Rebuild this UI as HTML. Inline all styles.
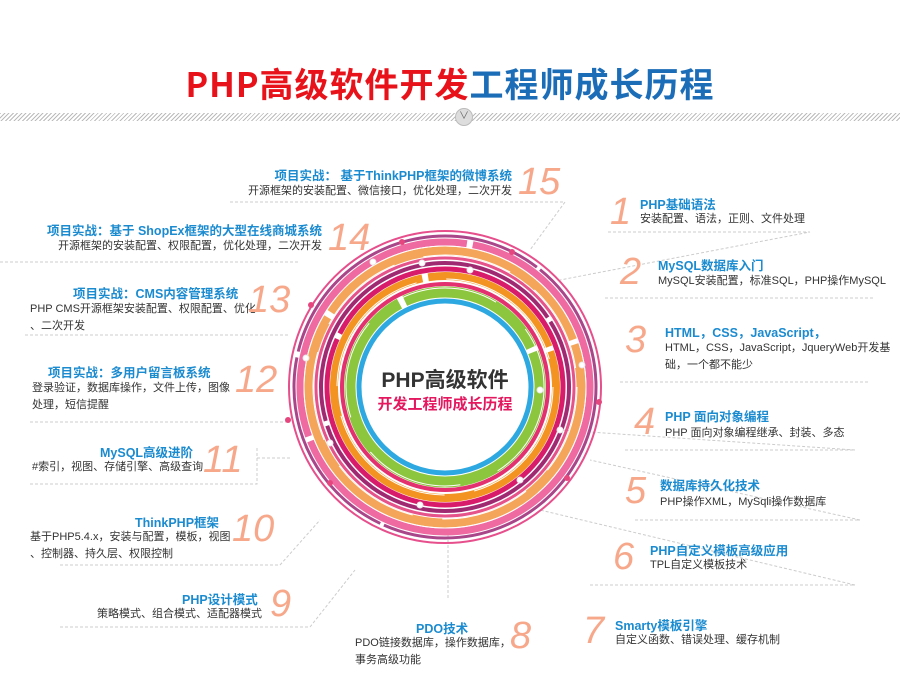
<!DOCTYPE html>
<html><head><meta charset="utf-8"><style>
body{margin:0;width:900px;height:674px;background:#fff;position:relative;overflow:hidden;font-family:"Liberation Sans","Noto Sans CJK SC",sans-serif}
.a{position:absolute;white-space:nowrap}
.t{font-size:12.5px;font-weight:bold;color:#1b8bd0}
.s{font-size:11px;color:#333;line-height:17px}
.n{font-size:38px;font-style:italic;color:#f7a88b;line-height:40px}
.r{text-align:right}
</style></head><body>
<div class="a" style="left:0;top:58px;width:900px;text-align:center;font-size:34px;font-weight:bold;letter-spacing:1px;font-family:'Noto Sans CJK SC','Liberation Sans',sans-serif"><span style="color:#e8121a">PHP高级软件开发</span><span style="color:#1c6db8">工程师成长历程</span></div>
<div class="a" style="left:0;top:113px;width:900px;height:8px;background:repeating-linear-gradient(135deg,#bbb 0 1px,#fff 1px 3px)"></div>
<div class="a" style="left:455px;top:108px;width:16px;height:16px;border-radius:50%;background:#ddd;border:1px solid #bbb;text-align:center;font-size:10px;color:#666;line-height:16px">∨</div>
<svg class="a" style="left:0;top:0" width="900" height="674">
<g stroke="#ccc" stroke-dasharray="3,2" fill="none" stroke-width="1">
<path d="M230 202H565L530 250"/><path d="M0 262H300"/><path d="M25 335H290"/><path d="M30 422H290"/><path d="M30 484H257V448"/><path d="M257 458H290"/><path d="M60 565H280L320 520"/><path d="M60 627H310L355 570"/><path d="M448 530V600"/>
<path d="M608 232H810L560 280"/><path d="M605 298H875"/><path d="M620 382H870"/><path d="M625 450H855L560 430"/><path d="M635 520H860L590 460"/><path d="M590 585H855L540 510"/>
</g>
<g fill="none" transform="translate(445 387)">
<circle r="156" stroke="#e64f8c" stroke-width="2"/>
<circle r="151" stroke="#a9468a" stroke-width="3" stroke-dasharray="300 4 200 6"/>
<circle r="145" stroke="#ee6aa0" stroke-width="7" stroke-dasharray="400 5 300 6"/>
<circle r="136" stroke="#f5a55a" stroke-width="9" stroke-dasharray="500 6 300 5"/>
<circle r="129" stroke="#e6528a" stroke-width="3"/>
<circle r="124" stroke="#a02a72" stroke-width="4" stroke-dasharray="350 5"/>
<circle r="118" stroke="#d81b6a" stroke-width="5" stroke-dasharray="420 6"/>
<circle r="111" stroke="#f39322" stroke-width="8" stroke-dasharray="500 6 150 5"/>
<circle r="103" stroke="#e3306f" stroke-width="4"/>
<circle r="95" stroke="#8cc63f" stroke-width="11" stroke-dasharray="400 6 150 5"/>
<circle r="86" stroke="#2ea8e0" stroke-width="5"/>
<circle r="141" stroke="#fff" stroke-width="1" stroke-dasharray="120 20"/>
<circle r="132" stroke="#fff" stroke-width="1" stroke-dasharray="90 30"/>
<circle r="108" stroke="#fff" stroke-width="1" stroke-dasharray="140 30"/>
<circle r="99" stroke="#fff" stroke-width="1" stroke-dasharray="100 40"/>
</g>
<g fill="#fff" stroke="#e8e8e8">
<circle cx="373" cy="262" r="3"/><circle cx="422" cy="263" r="3"/><circle cx="306" cy="358" r="3"/><circle cx="330" cy="443" r="3"/><circle cx="540" cy="390" r="3"/><circle cx="582" cy="365" r="3"/><circle cx="470" cy="270" r="3"/><circle cx="420" cy="505" r="3"/><circle cx="520" cy="480" r="3"/><circle cx="560" cy="430" r="3"/>
</g>
<g fill="#e6467e"><circle cx="402" cy="242" r="3"/><circle cx="512" cy="252" r="3"/><circle cx="311" cy="305" r="3"/><circle cx="599" cy="402" r="3"/><circle cx="288" cy="420" r="3"/><circle cx="567" cy="478" r="3"/><circle cx="330" cy="483" r="3"/></g>
</svg>
<div class="a" style="left:330px;top:364px;width:230px;text-align:center;font-size:21px;color:#333;font-weight:bold;font-family:'Liberation Sans','Noto Sans CJK SC',sans-serif">PHP高级软件</div>
<div class="a" style="left:330px;top:393px;width:230px;text-align:center;font-size:15px;color:#e3185e;font-weight:bold">开发工程师成长历程</div>

<div class="a t r" style="right:388px;top:165px">项目实战： 基于ThinkPHP框架的微博系统</div>
<div class="a s r" style="right:388px;top:183px">开源框架的安装配置、微信接口，优化处理，二次开发</div>
<div class="a n" style="left:518px;top:162px">15</div>
<div class="a t" style="left:28px;top:220px;width:294px;text-align:right">项目实战：基于 ShopEx框架的大型在线商城系统</div>
<div class="a s r" style="right:578px;top:238px">开源框架的安装配置、权限配置，优化处理，二次开发</div>
<div class="a n" style="left:328px;top:218px">14</div>
<div class="a t" style="left:73px;top:283px">项目实战：CMS内容管理系统</div>
<div class="a s" style="left:30px;top:301px">PHP CMS开源框架安装配置、权限配置、优化<br>、二次开发</div>
<div class="a n" style="left:248px;top:280px">13</div>
<div class="a t" style="left:48px;top:362px">项目实战：多用户留言板系统</div>
<div class="a s" style="left:32px;top:380px">登录验证，数据库操作，文件上传，图像<br>处理，短信提醒</div>
<div class="a n" style="left:235px;top:360px">12</div>
<div class="a t" style="left:100px;top:442px">MySQL高级进阶</div>
<div class="a s" style="left:32px;top:459px">#索引，视图、存储引擎、高级查询</div>
<div class="a n" style="left:203px;top:440px">11</div>
<div class="a t" style="left:135px;top:512px">ThinkPHP框架</div>
<div class="a s" style="left:30px;top:529px">基于PHP5.4.x，安装与配置，模板，视图<br>、控制器、持久层、权限控制</div>
<div class="a n" style="left:232px;top:509px">10</div>
<div class="a t" style="left:182px;top:589px">PHP设计模式</div>
<div class="a s" style="left:97px;top:606px">策略模式、组合模式、适配器模式</div>
<div class="a n" style="left:270px;top:584px">9</div>
<div class="a t" style="left:416px;top:618px">PDO技术</div>
<div class="a s" style="left:355px;top:635px">PDO链接数据库，操作数据库，<br>事务高级功能</div>
<div class="a n" style="left:510px;top:616px">8</div>
<div class="a t" style="left:615px;top:615px">Smarty模板引擎</div>
<div class="a s" style="left:615px;top:632px">自定义函数、错误处理、缓存机制</div>
<div class="a n" style="left:583px;top:611px">7</div>
<div class="a t" style="left:650px;top:540px">PHP自定义模板高级应用</div>
<div class="a s" style="left:650px;top:557px">TPL自定义模板技术</div>
<div class="a n" style="left:613px;top:537px">6</div>
<div class="a t" style="left:660px;top:475px">数据库持久化技术</div>
<div class="a s" style="left:660px;top:494px">PHP操作XML，MySqli操作数据库</div>
<div class="a n" style="left:625px;top:471px">5</div>
<div class="a t" style="left:665px;top:406px">PHP 面向对象编程</div>
<div class="a s" style="left:665px;top:425px">PHP 面向对象编程继承、封装、多态</div>
<div class="a n" style="left:634px;top:402px">4</div>
<div class="a t" style="left:665px;top:322px">HTML，CSS，JavaScript，</div>
<div class="a s" style="left:665px;top:340px">HTML，CSS，JavaScript，JqueryWeb开发基<br>础，一个都不能少</div>
<div class="a n" style="left:625px;top:320px">3</div>
<div class="a t" style="left:658px;top:255px">MySQL数据库入门</div>
<div class="a s" style="left:658px;top:273px">MySQL安装配置，标准SQL，PHP操作MySQL</div>
<div class="a n" style="left:620px;top:252px">2</div>
<div class="a t" style="left:640px;top:194px">PHP基础语法</div>
<div class="a s" style="left:640px;top:211px">安装配置、语法，正则、文件处理</div>
<div class="a n" style="left:610px;top:192px">1</div>
</body></html>
